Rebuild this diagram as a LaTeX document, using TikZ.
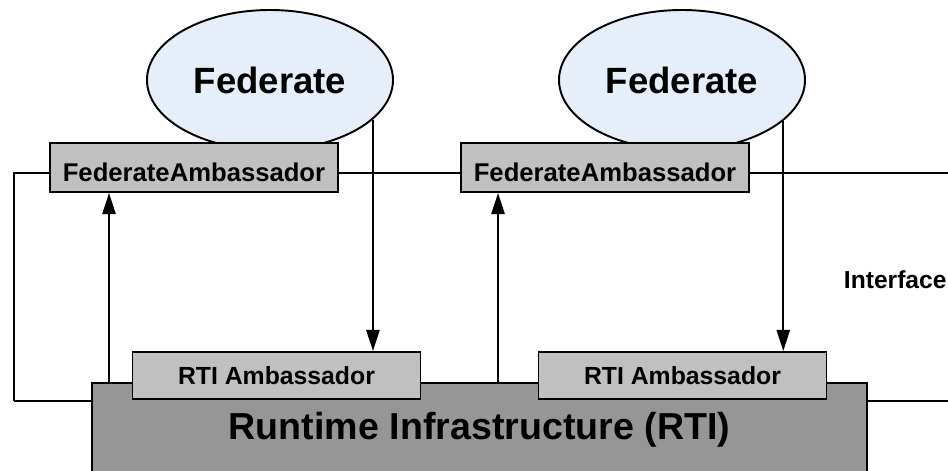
\documentclass[tikz,border=0pt]{standalone}
\usepackage{fontspec}
\setmainfont{Liberation Sans}
\usetikzlibrary{arrows.meta, shapes}

\definecolor{fedblue}{RGB}{230,238,249}
\definecolor{ambgray}{RGB}{192,192,192}
\definecolor{rtigray}{RGB}{150,150,150}

\begin{document}
\begin{tikzpicture}[line width=1.1pt]
    \tikzstyle{fed} = [ellipse, draw, fill=fedblue, minimum width=4.92cm, minimum height=2.8cm, inner sep=0pt, font=\fontsize{20.8}{24}\selectfont\bfseries]
    \tikzstyle{amb} = [rectangle, draw, fill=ambgray, minimum width=5.76cm, inner sep=0pt]
    \tikzstyle{arr} = [-{Triangle[length=12pt, width=7.5pt]}]
    \useasboundingbox (0, 0) rectangle (18.96, 9.4);

    % federates and their ambassadors
    \node [fed] (fed1) at (5.4, 7.8) {Federate};
    \node [fed] (fed2) at (13.64, 7.8) {Federate};
    \node [amb, minimum height=0.98cm, text height=0.56cm, font=\fontsize{14.6}{16}\selectfont\bfseries] (fedamb1) at (3.88, 6.05) {FederateAmbassador};
    \node [amb, minimum height=0.98cm, text height=0.56cm, font=\fontsize{14.6}{16}\selectfont\bfseries] (fedamb2) at (12.1, 6.05) {FederateAmbassador};

    % interface line
    \coordinate (lt) at (0.28, 5.94);
    \coordinate (lb) at (0.28, 1.38);
    \coordinate (rt) at (18.96, 5.94);
    \coordinate (rb) at (18.96, 1.38);
    \draw (lt -| fedamb1.west) -- (lt) -- (lb);
    \draw (lt -| fedamb1.east) -- (lt -| fedamb2.west);
    \draw (lt -| fedamb2.east) -- (rt);
    \node [anchor=west, inner sep=0pt, font=\fontsize{14}{16}\selectfont\bfseries] (iface) at (16.86, 3.8) {Interface};

    % RTI
    \node [rectangle, draw, fill=rtigray, anchor=north, minimum width=15.5cm, minimum height=2.06cm, text depth=0.34cm, font=\fontsize{21.4}{25}\selectfont\bfseries] (rti) at (9.59, 1.76) {Runtime Infrastructure (RTI)};
    \draw (lb) -- (lb -| rti.west);
    \draw (rb -| rti.east) -- (rb);
    \node [amb, minimum height=0.94cm, font=\fontsize{14.1}{16}\selectfont\bfseries] (rtiamb1) at (5.53, 1.89) {RTI Ambassador};
    \node [amb, minimum height=0.94cm, font=\fontsize{14.1}{16}\selectfont\bfseries] (rtiamb2) at (13.65, 1.89) {RTI Ambassador};

    % calls
    \coordinate (up1) at ([xshift=1.2cm]fedamb1.south west);
    \coordinate (up2) at ([xshift=0.76cm]fedamb2.south west);
    \draw [arr] (up1 |- rti.north) -- (up1);
    \draw [arr] (up2 |- rti.north) -- (up2);
    \draw [arr] (fed1.-21) -- (fed1.-21 |- rtiamb1.north);
    \draw [arr] (fed2.-22) -- (fed2.-22 |- rtiamb2.north);
\end{tikzpicture}
\end{document}
